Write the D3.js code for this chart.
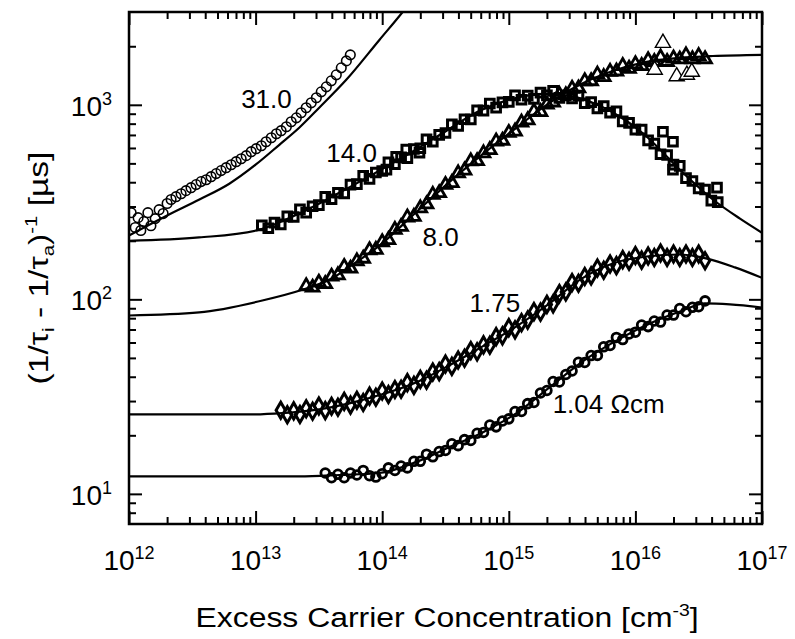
<!DOCTYPE html>
<html>
<head>
<meta charset="utf-8">
<title>Excess carrier lifetime</title>
<script src="https://d3js.org/d3.v7.min.js"></script>
<style>
  body { margin: 0; background: #fff; }
  text { font-family: "Liberation Sans", Arial, Helvetica, sans-serif; fill: #000; }
</style>
</head>
<body>
<svg id="chart" width="795" height="639"></svg>
<script>
// axis ticks
var xMajor = [1e12, 1e13, 1e14, 1e15, 1e16, 1e17];
var yMajor = [10, 100, 1000];

// fitted curves (x = excess carrier concentration, y = lifetime in µs)
var fit31X = [1e12, 2.0e12, 3.6e12, 6.2e12, 1.0e13, 1.54e13, 2.21e13, 3.18e13, 5.2e13, 9.5e13, 1.45e14, 1.97e14];
var fit31Y = [213, 270, 326, 393, 492, 623, 762, 966, 1344, 2155, 3000, 3890];
var fit14X = [1e12, 3.58e12, 1.07e13, 2.21e13, 4.58e13, 9.5e13, 1.73e14, 3.22e14, 5.88e14, 1.07e15, 1.92e15, 3.03e15, 5.23e15, 8.24e15, 1.23e16, 2.24e16, 4.09e16, 6.70e16, 1e17];
var fit14Y = [200, 208, 228, 276, 353, 459, 574, 736, 931, 1074, 1138, 1112, 988, 838, 685, 464, 326, 260, 220];
var fit8X = [1e12, 3.58e12, 1.13e13, 2.34e13, 3.82e13, 6.03e13, 9.5e13, 1.73e14, 3.22e14, 5.88e14, 1.07e15, 1.99e15, 3.63e15, 6.62e15, 1.23e16, 2.24e16, 4.09e16, 1e17];
var fit8Y = [82.6, 85.7, 98.6, 112, 126, 153, 189, 269, 389, 541, 736, 1000, 1268, 1493, 1663, 1742, 1782, 1807];
var fit175X = [1e12, 8.89e12, 1.62e13, 3.18e13, 5.50e13, 1e14, 1.87e14, 3.40e14, 6.21e14, 1.15e15, 2.10e15, 3.63e15, 6.62e15, 1.23e16, 2.24e16, 3.67e16, 6.11e16, 1e17];
var fit175Y = [25.6, 25.6, 26.0, 27.2, 29.2, 32.5, 37.5, 45.8, 57.3, 72.6, 95.3, 126, 153, 166, 170, 162, 146, 129];
var fit104X = [1e12, 2.21e13, 4.58e13, 9.5e13, 1.87e14, 3.40e14, 6.21e14, 1.15e15, 2.10e15, 3.84e15, 7.13e15, 1.30e16, 2.37e16, 3.54e16, 5.58e16, 1e17];
var fit104Y = [12.3, 12.3, 12.5, 12.8, 14.6, 17.4, 20.7, 26.0, 35.3, 48.0, 61.5, 75.2, 87.7, 95.3, 94.2, 90.8];

// measured points, 31.0 Ωcm (circles)
var pts31X = [1.04e12, 1.12e12, 1.18e12, 1.24e12, 1.31e12, 1.41e12, 1.49e12, 1.61e12, 1.73e12, 1.86e12,
  2.00e12, 2.15e12, 2.35e12, 2.58e12, 2.82e12, 3.09e12, 3.39e12, 3.71e12, 4.07e12, 4.45e12,
  4.88e12, 5.34e12, 5.85e12, 6.41e12, 7.02e12, 7.69e12, 8.43e12, 9.23e12, 1.01e13, 1.11e13,
  1.21e13, 1.33e13, 1.46e13, 1.59e13, 1.75e13, 1.91e13, 2.10e13, 2.29e13, 2.51e13, 2.75e13,
  3.02e13, 3.30e13, 3.62e13, 3.96e13, 4.34e13, 4.75e13, 5.21e13, 5.60e13];
var pts31Y = [279, 234, 263, 226, 251, 279, 239, 260, 289, 276,
  311, 326, 337, 349, 362, 375, 389, 403, 412, 427,
  443, 459, 475, 492, 510, 528, 548, 574, 595, 616,
  646, 677, 710, 736, 771, 818, 857, 910, 966, 1024,
  1087, 1166, 1237, 1328, 1426, 1549, 1682, 1806];

// 14.0 Ωcm (squares)
var pts14X = [1.12e13, 1.26e13, 1.41e13, 1.58e13, 1.78e13, 2.00e13, 2.24e13, 2.51e13, 2.82e13, 3.16e13,
  3.55e13, 3.98e13, 4.47e13, 5.01e13, 5.62e13, 6.31e13, 7.08e13, 7.94e13, 8.91e13,
  1.00e14, 1.12e14, 1.26e14, 1.41e14, 1.58e14, 1.78e14, 2.00e14, 2.24e14, 2.51e14, 2.82e14,
  3.16e14, 3.55e14, 3.98e14, 4.47e14, 5.01e14, 5.62e14, 6.31e14, 7.08e14, 7.94e14, 8.91e14,
  1.00e15, 1.12e15, 1.26e15, 1.41e15, 1.58e15, 1.78e15, 2.00e15, 2.24e15, 2.51e15, 2.82e15,
  3.16e15, 3.55e15, 3.98e15, 4.47e15, 5.01e15, 5.62e15, 6.31e15, 7.08e15, 7.94e15, 8.91e15,
  1.00e16, 1.12e16, 1.26e16, 1.41e16, 1.58e16, 1.78e16, 2.00e16, 2.24e16, 2.51e16, 2.82e16,
  3.16e16, 3.55e16, 3.98e16, 4.47e16,
  1.08e14, 1.29e14, 1.55e14, 1.97e14, 1.65e16, 1.98e16, 1.98e16, 4.41e16];
var pts14Y = [240, 232, 248, 243, 267, 265, 290, 279, 301, 305,
  336, 327, 353, 350, 389, 391, 431, 416, 449,
  457, 506, 495, 537, 532, 593, 598, 665, 646, 700,
  716, 793, 778, 843, 840, 938, 933, 1016, 968, 1030,
  1035, 1119, 1062, 1114, 1072, 1156, 1119, 1180, 1086, 1119,
  1079, 1114, 1019, 1033, 957, 984, 910, 925, 822, 807,
  745, 745, 656, 632, 557, 552, 493, 485, 420, 406,
  372, 367, 322, 316,
  464, 541, 588, 567, 727, 646, 464, 375];

// 8.0 Ωcm (triangles)
var pts8X = [2.51e13, 2.82e13, 3.16e13, 3.55e13, 3.98e13, 4.47e13, 5.01e13, 5.62e13, 6.31e13, 7.08e13, 7.94e13, 8.91e13,
  1.00e14, 1.12e14, 1.26e14, 1.41e14, 1.58e14, 1.78e14, 2.00e14, 2.24e14, 2.51e14, 2.82e14,
  3.16e14, 3.55e14, 3.98e14, 4.47e14, 5.01e14, 5.62e14, 6.31e14, 7.08e14, 7.94e14, 8.91e14,
  1.00e15, 1.12e15, 1.26e15, 1.41e15, 1.58e15, 1.78e15, 2.00e15, 2.24e15, 2.51e15, 2.82e15,
  3.16e15, 3.55e15, 3.98e15, 4.47e15, 5.01e15, 5.62e15, 6.31e15, 7.08e15, 7.94e15, 8.91e15,
  1.00e16, 1.12e16, 1.26e16, 1.41e16, 1.58e16, 1.78e16, 2.00e16, 2.24e16, 2.51e16, 2.82e16, 3.16e16, 3.55e16];
var pts8Y = [117, 115, 122, 120, 131, 133, 147, 144, 157, 162, 179, 180,
  197, 202, 228, 236, 264, 266, 294, 308, 345, 352,
  388, 397, 445, 460, 513, 514, 564, 586, 649, 655,
  718, 730, 811, 834, 925, 920, 1005, 1030, 1127, 1122,
  1211, 1216, 1324, 1324, 1432, 1390, 1479, 1486, 1585, 1535,
  1618, 1585, 1698, 1663, 1754, 1663, 1734, 1714, 1799, 1718, 1782, 1718];
var big8X = [1.42e16, 1.65e16, 2.12e16, 2.55e16, 2.79e16];
var big8Y = [1512, 2080, 1400, 1426, 1477];

// 1.75 Ωcm (diamonds)
var pts175X = [1.58e13, 1.78e13, 2.00e13, 2.24e13, 2.51e13, 2.82e13, 3.16e13, 3.55e13, 3.98e13, 4.47e13, 5.01e13, 5.62e13, 6.31e13, 7.08e13, 7.94e13, 8.91e13,
  1.00e14, 1.12e14, 1.26e14, 1.41e14, 1.58e14, 1.78e14, 2.00e14, 2.24e14, 2.51e14, 2.82e14,
  3.16e14, 3.55e14, 3.98e14, 4.47e14, 5.01e14, 5.62e14, 6.31e14, 7.08e14, 7.94e14, 8.91e14,
  1.00e15, 1.12e15, 1.26e15, 1.41e15, 1.58e15, 1.78e15, 2.00e15, 2.24e15, 2.51e15, 2.82e15,
  3.16e15, 3.55e15, 3.98e15, 4.47e15, 5.01e15, 5.62e15, 6.31e15, 7.08e15, 7.94e15, 8.91e15,
  1.00e16, 1.12e16, 1.26e16, 1.41e16, 1.58e16, 1.78e16, 2.00e16, 2.24e16, 2.51e16, 2.82e16, 3.16e16, 3.55e16];
var pts175Y = [26.9, 25.5, 26.7, 25.6, 27.4, 26.6, 28.3, 26.8, 28.2, 27.9, 29.9, 28.6, 30.3, 29.5, 31.8, 31.4,
  33.8, 32.4, 34.4, 34.5, 37.3, 36.1, 38.8, 38.4, 42.3, 42.5,
  46.5, 45.2, 48.8, 49.8, 54.6, 53.7, 58.3, 58.1, 64.3, 64.9,
  71.5, 69.7, 75.9, 78.2, 86.5, 85.9, 94.2, 94.8, 107, 109,
  122, 121, 131, 132, 145, 141, 152, 149, 160, 157,
  168, 159, 167, 164, 173, 164, 171, 164, 171, 164, 171, 158];

// 1.04 Ωcm (small circles)
var pts104X = [3.55e13, 3.98e13, 4.47e13, 5.01e13, 5.62e13, 6.31e13, 7.08e13, 7.94e13, 8.91e13,
  1.00e14, 1.12e14, 1.26e14, 1.41e14, 1.58e14, 1.78e14, 2.00e14, 2.24e14, 2.51e14, 2.82e14,
  3.16e14, 3.55e14, 3.98e14, 4.47e14, 5.01e14, 5.62e14, 6.31e14, 7.08e14, 7.94e14, 8.91e14,
  1.00e15, 1.12e15, 1.26e15, 1.41e15, 1.58e15, 1.78e15, 2.00e15, 2.24e15, 2.51e15, 2.82e15,
  3.16e15, 3.55e15, 3.98e15, 4.47e15, 5.01e15, 5.62e15, 6.31e15, 7.08e15, 7.94e15, 8.91e15,
  1.00e16, 1.12e16, 1.26e16, 1.41e16, 1.58e16, 1.78e16, 2.00e16, 2.24e16, 2.51e16, 2.82e16, 3.16e16, 3.55e16];
var pts104Y = [12.8, 12.1, 12.6, 12.1, 12.8, 12.5, 13.2, 12.4, 12.2,
  12.7, 13.6, 13.2, 13.9, 13.6, 14.7, 14.7, 16.0, 15.5, 16.5,
  16.7, 18.1, 17.7, 19.0, 18.8, 20.5, 20.7, 22.6, 22.1, 23.7,
  24.3, 26.5, 26.5, 29.1, 29.5, 33.0, 34.0, 37.8, 37.6, 41.1,
  42.8, 47.5, 47.4, 51.4, 51.5, 57.0, 57.9, 63.7, 62.1, 66.4,
  67.8, 73.8, 72.4, 77.4, 76.4, 83.0, 83.0, 89.7, 86.3, 91.0, 91.6, 98.2];

// curve labels, placed at data coordinates
var labelText = ["31.0", "14.0", "8.0", "1.75", "1.04 \u03A9cm"];
var labelX = [7.69e12, 3.62e13, 2.08e14, 4.9e14, 2.22e15];
var labelY = [966, 510, 189, 85.7, 26.0];

var svg = d3.select("#chart");
var pLeft = 129, pRight = 762, pTop = 12, pBottom = 524;

var x = d3.scaleLog().domain([1e12, 1e17]).range([pLeft, pRight]);
var y = d3.scaleLog().domain([7, 3000]).range([pBottom, pTop]);

var xMinor = [], yMinor = [];
for (var e = 12; e < 17; e++) for (var m = 2; m < 10; m++) xMinor.push(m * Math.pow(10, e));
[8, 9].forEach(function(m) { yMinor.push(m); });
for (var e2 = 1; e2 < 4; e2++) for (var m2 = 2; m2 < 10; m2++) {
  var v = m2 * Math.pow(10, e2);
  if (v < 3000) yMinor.push(v);
}

svg.append("rect").attr("width", 795).attr("height", 639).attr("fill", "#fff");

svg.append("defs").append("clipPath").attr("id", "plot")
  .append("rect").attr("x", pLeft).attr("y", pTop).attr("width", pRight - pLeft).attr("height", pBottom - pTop);

// inward ticks on all four sides
function tickSide(axis, values, len, tx, ty) {
  svg.append("g").attr("transform", "translate(" + tx + "," + ty + ")")
    .call(axis.tickValues(values).tickSize(-len).tickFormat(""))
    .call(function(g) { g.select(".domain").remove(); })
    .selectAll("line").attr("stroke", "#000").attr("stroke-width", 2);
}
tickSide(d3.axisBottom(x), xMajor, 13, 0, pBottom);
tickSide(d3.axisBottom(x), xMinor, 7, 0, pBottom);
tickSide(d3.axisTop(x), xMajor, 13, 0, pTop);
tickSide(d3.axisTop(x), xMinor, 7, 0, pTop);
tickSide(d3.axisLeft(y), yMajor, 13, pLeft, 0);
tickSide(d3.axisLeft(y), yMinor, 7, pLeft, 0);
tickSide(d3.axisRight(y), yMajor, 13, pRight, 0);
tickSide(d3.axisRight(y), yMinor, 7, pRight, 0);

// tick labels with superscript exponents
svg.append("g").selectAll("text").data(xMajor).join("text")
  .attr("x", function(d) { return x(d); }).attr("y", 570)
  .attr("text-anchor", "middle").style("font-size", "28px")
  .each(function(d) {
    var t = d3.select(this);
    t.append("tspan").text("10");
    t.append("tspan").attr("dy", -11).style("font-size", "18px").text(Math.round(Math.log10(d)));
  });
svg.append("g").selectAll("text").data(yMajor).join("text")
  .attr("x", 112).attr("y", function(d) { return y(d) + 11; })
  .attr("text-anchor", "end").style("font-size", "28px")
  .each(function(d) {
    var t = d3.select(this);
    t.append("tspan").text("10");
    t.append("tspan").attr("dy", -11).style("font-size", "18px").text(Math.round(Math.log10(d)));
  });

// axis titles
var xt = svg.append("text").attr("transform", "translate(447,627) scale(1.14,1)")
  .attr("text-anchor", "middle").style("font-size", "28px");
xt.append("tspan").text("Excess Carrier Concentration [cm");
xt.append("tspan").attr("dy", -11).style("font-size", "17px").text("-3");
xt.append("tspan").attr("dy", 11).text("]");

var yt = svg.append("text").attr("transform", "translate(48,268) rotate(-90) scale(1.2,1)")
  .attr("text-anchor", "middle").style("font-size", "28px");
yt.append("tspan").text("(1/\u03C4");
yt.append("tspan").attr("dy", 6).style("font-size", "17px").text("i");
yt.append("tspan").attr("dy", -6).text(" - 1/\u03C4");
yt.append("tspan").attr("dy", 6).style("font-size", "17px").text("a");
yt.append("tspan").attr("dy", -6).text(")");
yt.append("tspan").attr("dy", -11).style("font-size", "17px").text("-1");
yt.append("tspan").attr("dy", 11).text(" [\u00B5s]");

var plot = svg.append("g").attr("clip-path", "url(#plot)");

function zip(xs, ys) { return xs.map(function(v, i) { return [v, ys[i]]; }); }

function markers(xs, ys, type, size, fill, sw) {
  plot.append("g").selectAll("path").data(zip(xs, ys)).join("path")
    .attr("transform", function(d) { return "translate(" + x(d[0]) + "," + y(d[1]) + ")"; })
    .attr("d", d3.symbol().type(type).size(size))
    .attr("fill", fill).attr("stroke", "#000").attr("stroke-width", sw);
}

markers(pts31X, pts31Y, d3.symbolCircle, 72, "none", 1.6);
markers(pts14X, pts14Y, d3.symbolSquare, 75, "none", 3);
markers(pts8X, pts8Y, d3.symbolTriangle, 70, "none", 2.8);
markers(big8X, big8Y, d3.symbolTriangle, 100, "#fff", 1.4);
markers(pts175X, pts175Y, d3.symbolDiamond, 75, "none", 3);
markers(pts104X, pts104Y, d3.symbolCircle, 60, "none", 2.8);

var line = d3.line().x(function(d) { return x(d[0]); }).y(function(d) { return y(d[1]); })
  .curve(d3.curveMonotoneX);
[[fit31X, fit31Y], [fit14X, fit14Y], [fit8X, fit8Y], [fit175X, fit175Y], [fit104X, fit104Y]]
  .forEach(function(f) {
    plot.append("path").datum(zip(f[0], f[1])).attr("d", line)
      .attr("fill", "none").attr("stroke", "#000").attr("stroke-width", 2.2);
  });

// curve labels
svg.append("g").selectAll("text").data(labelText).join("text")
  .attr("x", function(d, i) { return x(labelX[i]); })
  .attr("y", function(d, i) { return y(labelY[i]); })
  .style("font-size", "26px")
  .text(function(d) { return d; });

// frame
svg.append("rect").attr("x", pLeft).attr("y", pTop).attr("width", pRight - pLeft).attr("height", pBottom - pTop)
  .attr("fill", "none").attr("stroke", "#000").attr("stroke-width", 2.5);
</script>
</body>
</html>
